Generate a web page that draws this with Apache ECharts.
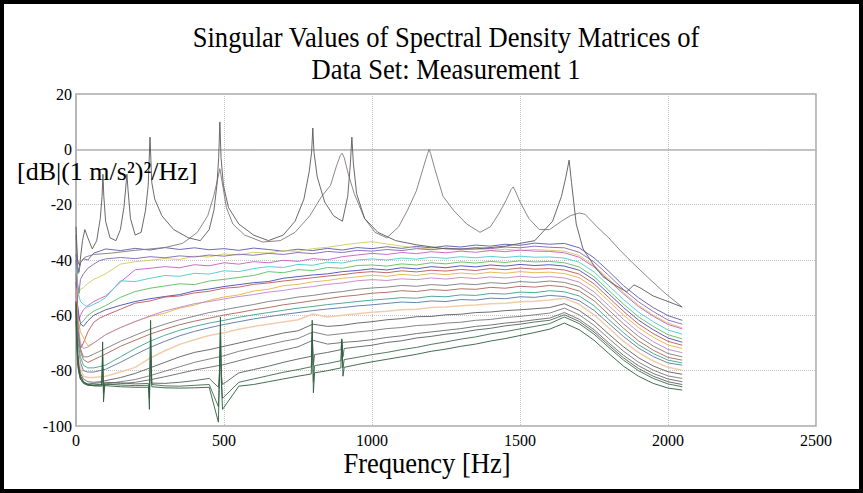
<!DOCTYPE html>
<html><head><meta charset="utf-8">
<script src="https://cdn.jsdelivr.net/npm/echarts@6/dist/echarts.min.js"></script>
<style>html,body{margin:0;padding:0;background:#fff}#c{width:863px;height:493px}</style>
</head><body><div id="c"></div>
<script>
// ---------- DATA ----------
const titleLines = ['Singular Values of Spectral Density Matrices of', 'Data Set: Measurement 1'];
const xTitle = 'Frequency [Hz]';
const yTitle = '[dB|(1 m/s\u00B2)\u00B2/Hz]';
const xTicks = [0, 500, 1000, 1500, 2000, 2500];
const yTicks = [-100, -80, -60, -40, -20, 0, 20];

// common frequency grid (Hz) for the band of singular values
const F = [0,5,10,15,25,40,60,80,
 100,150,200,250,300,350,400,450,
 500,550,600,650,700,750,800,850,
 900,950,1000,1050,1100,1150,1200,1250,
 1300,1350,1400,1450,1500,1550,1600,1650,
 1700,1750,1800,1850,1900,1950,2000,2048];

const L1 = [-38,-42,-44.5,-41,-39.5,-40,-37.5,-36.8,
 -36,-36.6,-35.8,-36.4,-35.5,-36.2,-35.6,-36.3,
 -35.9,-36.5,-35.7,-36.2,-36.8,-36.1,-36.6,-35.8,
 -36.4,-35.5,-35.9,-35.2,-35.8,-35.1,-35.6,-34.9,
 -35.3,-34.6,-35.0,-34.3,-34.7,-33.9,-34.3,-34.0,
 -35.6,-39.2,-44.1,-49.3,-53.6,-57.2,-60.1,-61.8];
const L2 = [-44,-54,-52,-50.5,-50,-48.5,-47,-46,
 -45,-41.5,-40.6,-40.1,-39.5,-39.8,-38.6,-38.9,
 -37.8,-38.2,-37.2,-37.5,-36.6,-36.9,-35.9,-35.4,
 -34.6,-33.9,-33.4,-34.2,-35.0,-35.6,-36.1,-35.8,
 -36.4,-36.0,-36.5,-36.1,-36.6,-36.2,-36.5,-36.8,
 -38.4,-42.0,-46.9,-51.8,-56.3,-59.9,-62.8,-64.5];
const L3 = [-40,-48,-52,-47,-45,-43,-41.5,-40.2,
 -39.6,-39.1,-39.5,-38.8,-39.2,-38.5,-38.9,-38.2,
 -38.6,-37.9,-38.3,-37.6,-38.0,-37.3,-37.7,-36.9,
 -37.3,-36.5,-36.8,-36.2,-36.6,-35.9,-36.3,-35.7,
 -36.1,-35.5,-35.9,-35.3,-35.6,-35.0,-35.4,-35.6,
 -37.2,-40.7,-45.6,-50.7,-55.1,-58.6,-61.7,-63.2];
const L4 = [-50,-58,-62,-60,-58,-56.5,-55,-54,
 -53,-48,-43.5,-43.0,-42.4,-42.8,-41.7,-42.1,
 -41.0,-41.5,-40.6,-41.0,-40.1,-40.5,-39.5,-39.9,
 -38.8,-38.2,-37.6,-38.0,-37.3,-37.7,-37.0,-37.4,
 -36.8,-37.2,-36.6,-37.0,-36.4,-36.8,-36.9,-37.4,
 -39.0,-42.5,-47.4,-52.3,-56.8,-60.3,-63.3,-64.9];
const L5 = [-42,-50,-53,-55,-56,-57,-56,-55,
 -53.6,-47.5,-47.8,-46.6,-45.6,-45.9,-44.8,-45.1,
 -43.9,-44.2,-43.1,-42.4,-42.7,-41.6,-41.9,-40.8,
 -41.1,-40.0,-39.6,-40.0,-39.3,-39.7,-39.0,-39.4,
 -38.8,-39.2,-38.7,-39.1,-38.6,-39.0,-38.9,-39.3,
 -40.8,-44.3,-49.3,-54.3,-58.8,-62.3,-65.3,-66.8];
const L6 = [-55,-62,-65,-63,-62,-60,-58.5,-57.5,
 -56.5,-53.5,-51.4,-50.2,-49.4,-48.6,-48.9,-47.6,
 -47.0,-46.3,-45.6,-44.2,-44.6,-43.5,-43.8,-42.7,
 -43.0,-42.0,-41.8,-42.2,-41.4,-41.8,-41.0,-41.4,
 -40.7,-41.1,-40.5,-40.9,-40.3,-40.7,-40.5,-41.0,
 -42.5,-46.0,-51.0,-56.0,-60.5,-64.0,-67.0,-68.5];
const L7 = [-48,-56,-60,-63,-64,-62,-60,-59,
 -58,-56.4,-55.0,-54.0,-53.2,-52.5,-51.2,-50.5,
 -49.6,-48.9,-48.2,-47.8,-46.6,-46.0,-45.4,-45.0,
 -44.2,-43.8,-43.2,-43.6,-42.8,-43.2,-42.4,-42.8,
 -42.1,-42.5,-41.8,-42.2,-41.6,-42.0,-41.7,-42.2,
 -43.7,-47.2,-52.2,-57.2,-61.7,-65.2,-68.2,-69.7];
const L8 = [-45,-56,-68,-72,-70,-66,-62.5,-61,
 -60,-57.8,-55.6,-54.8,-53.4,-53.0,-51.9,-51.3,
 -50.2,-49.8,-48.8,-48.3,-47.6,-47.0,-46.4,-45.8,
 -45.3,-44.6,-44.2,-44.6,-43.9,-44.3,-43.7,-44.0,
 -43.4,-43.8,-43.1,-43.5,-42.9,-43.3,-43.1,-43.6,
 -45.1,-48.6,-53.6,-58.6,-63.1,-66.6,-69.4,-70.8];
const L9 = [-50,-60,-63,-66,-68,-71,-70,-68.5,
 -67,-64.5,-62.2,-60.4,-59.2,-57.4,-56.3,-54.6,
 -53.4,-52.6,-51.2,-50.6,-49.3,-48.8,-47.9,-47.4,
 -46.6,-46.1,-45.5,-45.9,-45.2,-45.6,-44.9,-45.3,
 -44.7,-45.1,-44.4,-44.8,-44.2,-44.6,-44.4,-44.9,
 -46.4,-49.9,-54.9,-59.9,-64.4,-67.9,-70.7,-72.0];
const L10 = [-52,-61,-66,-70,-72,-71.5,-70,-68.5,
 -67,-64.4,-62.3,-60.2,-58.4,-57.1,-55.8,-55.0,
 -54.1,-53.2,-52.5,-51.6,-51.0,-50.2,-49.6,-48.8,
 -48.3,-47.5,-47.1,-47.4,-46.8,-47.1,-46.5,-46.9,
 -46.3,-46.7,-46.1,-46.5,-45.9,-46.3,-46.0,-46.5,
 -48.0,-51.5,-56.5,-61.5,-66.0,-69.5,-72.3,-73.5];
const L11 = [-55,-64,-68,-72,-75,-75,-74,-73,
 -72,-69.4,-67.2,-65.0,-63.2,-61.6,-60.3,-59.0,
 -58.0,-57.0,-56.1,-55.0,-54.3,-53.4,-52.8,-52.0,
 -51.4,-50.6,-50.1,-49.8,-49.2,-49.5,-48.9,-49.2,
 -48.6,-48.9,-48.2,-48.5,-47.8,-48.1,-47.6,-48.1,
 -49.6,-53.1,-58.1,-63.1,-67.6,-71.1,-73.8,-75.0];
const L12 = [-56,-66,-70,-73,-76,-77,-76,-75,
 -74,-71.2,-69.0,-66.8,-65.0,-63.4,-62.1,-61.0,
 -59.9,-59.0,-58.0,-57.2,-56.2,-55.5,-54.7,-54.0,
 -53.2,-52.7,-52.0,-51.7,-51.1,-51.4,-50.7,-51.0,
 -50.4,-50.6,-49.9,-50.2,-49.5,-49.8,-49.2,-49.7,
 -51.2,-54.7,-59.7,-64.7,-69.2,-72.6,-75.2,-76.2];
const L13 = [-58,-68,-72,-75,-78,-79,-79,-78.5,
 -78,-75,-72,-69.4,-67.2,-65.4,-64.0,-62.8,
 -61.8,-60.7,-59.8,-59.0,-58.2,-57.4,-56.8,-56.1,
 -55.6,-55.0,-54.5,-54.1,-53.6,-53.8,-53.1,-53.3,
 -52.6,-52.8,-52.1,-52.3,-51.6,-51.8,-51.1,-51.5,
 -53.0,-56.5,-61.5,-66.3,-70.6,-73.8,-76.2,-77.2];
const L14 = [-58,-70,-74,-77,-80,-80.5,-80.5,-80,
 -79.5,-77,-74.2,-71.6,-69.4,-67.4,-65.8,-64.5,
 -63.3,-62.3,-61.3,-60.5,-59.7,-59.0,-58.3,-57.7,
 -57.2,-56.6,-56.2,-55.7,-55.2,-55.4,-54.8,-55.0,
 -54.3,-54.5,-53.8,-54.0,-53.3,-53.5,-52.8,-53.2,
 -54.7,-58.2,-63.0,-67.7,-71.8,-74.9,-77.2,-78.0];
const L15 = [-60,-72,-76,-79,-82,-82.5,-82.5,-82.2,
 -82,-80.5,-78.8,-75.5,-72.8,-70.5,-68.8,-67.3,
 -66.3,-65.0,-64.0,-63.2,-62.4,-61.6,-59.5,-60.6,
 -60.0,-59.4,-58.9,-58.5,-58.0,-57.8,-57.2,-57.0,
 -56.5,-56.3,-55.8,-55.6,-55.1,-54.9,-54.5,-53.8,
 -56.0,-59.8,-64.6,-69.4,-73.4,-76.5,-78.8,-79.8];
const L16 = [-60,-74,-78,-81,-83,-84,-84.2,-84,
 -83.6,-82.5,-81.0,-79.0,-77.0,-75.0,-73.4,-72.4,
 -71.2,-70.0,-68.8,-67.6,-66.4,-65.6,-63.2,-64.0,
 -63.6,-62.8,-62.3,-61.6,-61.2,-60.5,-60.4,-59.8,
 -59.6,-59.0,-58.8,-58.3,-58.0,-57.6,-57.2,-55.8,
 -58.2,-62.0,-66.8,-71.4,-75.3,-78.3,-80.4,-81.3];
const L17 = [-62,-76,-80,-82,-84,-85,-85.2,-85,
 -84.8,-84.0,-83.2,-81.8,-80.2,-78.6,-77.0,-75.8,
 -74.6,-73.0,-71.8,-70.6,-69.4,-68.4,-66.0,-67.2,
 -66.6,-66.0,-65.5,-64.8,-64.4,-63.7,-63.4,-62.8,
 -62.5,-61.8,-61.5,-60.8,-60.4,-59.8,-59.2,-57.4,
 -59.8,-63.6,-68.4,-73.0,-76.9,-79.8,-81.9,-82.8];
const L18 = [-62,-77,-81,-83,-84.5,-85.2,-85.4,-85.3,
 -85.1,-84.7,-84.2,-83.3,-82.2,-81.0,-79.8,-78.8,
 -77.8,-76.4,-75.0,-73.8,-72.6,-71.4,-69.0,-70.4,
 -69.8,-69.4,-68.8,-68.0,-67.4,-66.6,-66.0,-65.4,
 -64.8,-64.0,-63.5,-62.8,-62.3,-61.6,-61.0,-59.0,
 -61.4,-65.2,-70.0,-74.5,-78.2,-81.0,-83.0,-84.0];

// finer grid for the lowest singular values (with the harmonic spikes)
const FS = [0,4,8,15,25,40,60,80,
 87,90,93,97,150,200,245,248,
 252,256,300,350,400,450,481,484,
 488,491,495,550,600,650,700,750,
 795,798,802,806,850,895,898,902,
 906,950,1000,1050,1100,1150,1200,1250,
 1300,1350,1400,1450,1500,1550,1600,1650,
 1700,1750,1800,1850,1900,1950,2000,2048];
const L19 = [-58,-72,-79.5,-83,-84.2,-84.8,-84.6,-84.4,
 -84.3,-79,-86,-84.2,-84.4,-84.8,-84.6,-87,
 -76,-84.5,-84.6,-84.2,-83.6,-82.8,-86,-82.2,
 -72,-81.6,-85,-80.8,-79.6,-78.4,-77.0,-75.8,
 -74.8,-68,-78,-74.2,-73.4,-72.4,-69,-75,
 -72.0,-71.4,-70.8,-69.8,-69.2,-68.2,-67.6,-66.8,
 -66.2,-65.3,-64.7,-63.8,-63.2,-62.4,-61.8,-59.8,
 -62.2,-66.0,-70.8,-75.4,-79.2,-82.0,-84.0,-85.0];
const L20 = [-56,-71,-79,-83,-84.6,-85.3,-85.2,-85.0,
 -85.0,-75,-88,-84.8,-85.2,-85.4,-85.3,-90,
 -68,-85.0,-85.5,-85.6,-85.3,-85.0,-93,-84.8,
 -66,-83,-90,-84.2,-83.0,-81.8,-80.6,-79.6,
 -78.6,-66,-84,-78.2,-77.4,-76.4,-70,-79,
 -76.0,-75.2,-74.2,-73.4,-72.4,-71.6,-70.5,-69.6,
 -68.6,-67.8,-66.7,-65.9,-64.9,-64.0,-63.0,-60.6,
 -63.0,-66.8,-71.6,-76.2,-80.0,-82.8,-84.8,-85.8];
const L21 = [-55,-70,-78,-82,-84,-85,-85.5,-85.6,
 -85.6,-69.6,-91.3,-85.4,-85.8,-86.0,-86.0,-94.0,
 -61.8,-85.8,-86.2,-86.3,-86.2,-86.0,-98.6,-85.5,
 -60.6,-84,-94.0,-85.6,-85.0,-84.0,-83.0,-82.0,
 -81.2,-61.8,-88.0,-80.8,-80.0,-79.0,-68.5,-82.0,
 -78.8,-77.8,-76.8,-75.9,-75.0,-74.1,-73.0,-72.2,
 -71.2,-70.4,-69.3,-68.4,-67.3,-66.2,-65.0,-62.8,
 -65.2,-69.0,-73.8,-78.4,-82.0,-84.6,-86.3,-87.0];

// first two singular values (resonance peaks)
const FA = [0,5,12,22,30,40,55,70,82,88,91,94,100,115,135,150,162,168,172,176,184,200,220,235,244,250,256,266,290,330,380,420,450,466,476,482,486,490,498,515,550,600,650,700,740,770,788,796,800,804,815,840,870,900,918,927,932,937,948,975,1020,1080,1150,1250,1350,1450,1550,1610,1640,1655,1666,1674,1690,1713,1750,1780,1820,1860,1885,1905,1950,2000,2048];
const VA = [-28,-40,-42,-33,-29,-32,-36,-33,-25,-17,-9,-17,-26,-32,-33,-29,-21,-14,-9,-15,-25,-31,-30,-22,-13,4.4,-12,-18,-24,-29,-32,-33,-29,-22,-13,-3,9.9,-3,-13,-21,-27,-31,-33,-31,-26,-18,-8,-1,7.7,-1,-10,-19,-24,-26,-17,-5,4.4,-5,-16,-25,-30,-33,-34.5,-36,-36,-35,-33,-26,-17,-10,-3.9,-12,-27,-36,-42,-46,-49,-51.5,-49,-50,-53,-55,-57];
const FB = [0,6,15,30,60,120,200,300,360,410,445,465,478,486,494,508,530,570,630,690,740,790,830,860,880,893,899,906,920,940,975,1010,1050,1090,1120,1150,1175,1188,1193,1198,1212,1240,1275,1320,1365,1400,1430,1455,1470,1477,1484,1500,1530,1565,1600,1640,1670,1700,1720,1760,1800,1838,1880,1939,1990,2048];
const VB = [-31,-45,-41,-39,-38,-37.5,-36.5,-35.5,-34,-30,-24,-17,-11,-7,-12,-21,-27,-31,-33.5,-33,-30,-24,-17,-13,-6,-2.2,-1.4,-3,-9,-16,-25,-30,-32,-28,-22,-15,-6,-1.5,0,-1.5,-7,-17,-22,-27,-30,-28,-23,-18,-14.5,-13.6,-15,-19,-25,-29,-29,-26,-24,-23,-23.5,-28,-32,-36.5,-41,-47,-52,-57];

// ---------- STYLE ----------
const serif = 'Liberation Serif';
const bandSets = [
  [F, L1, '#5b5bab'], [F, L2, '#d3cb5a'], [F, L3, '#8464b4'], [F, L4, '#c65cc6'],
  [F, L5, '#45cccc'], [F, L6, '#5cbc5c'], [F, L7, '#4a4ab6'], [F, L8, '#be5656'],
  [F, L9, '#e2b444'], [F, L10, '#c283c9'], [F, L11, '#7c7c7c'], [F, L12, '#a86656'],
  [F, L13, '#3ca08c'], [F, L14, '#5a74a4'], [F, L15, '#f2c8a2'], [F, L16, '#5e5e5e'],
  [F, L17, '#787878'], [F, L18, '#686868'], [FS, L19, '#56625a'], [FS, L20, '#3d6b4d'],
  [FS, L21, '#2e5e3e'], [FB, VB, '#857878'], [FA, VA, '#5a5a5a']
];
const series = bandSets.map(([xs, ys, col], i) => ({
  type: 'line', silent: true, showSymbol: false, symbol: 'none',
  data: xs.map((x, k) => [x, ys[k]]),
  lineStyle: { width: (col === '#f2c8a2') ? 1.5 : 1, color: col, opacity: 0.9 },
  z: 2 + i * 0.01
}));

const chart = echarts.init(document.getElementById('c'), null, { renderer: 'svg' });
const axisCommon = {
  axisLine: { show: true, lineStyle: { color: '#b4b4b4', width: 1.5 } },
  axisTick: { show: false },
  splitLine: { show: true, lineStyle: { color: '#c4c4c4', type: 'dotted', width: 1 } }
};
chart.setOption({
  animation: false,
  backgroundColor: '#ffffff',
  textStyle: { fontFamily: serif },
  grid: { left: 76, right: 47, top: 94, bottom: 67, show: true, borderColor: '#a8a8a8', borderWidth: 1.5, backgroundColor: 'transparent' },
  xAxis: Object.assign({
    type: 'value', min: xTicks[0], max: xTicks[xTicks.length - 1], interval: 500,
    axisLabel: { color: '#000', fontFamily: serif, fontSize: 16, margin: 6, formatter: v => String(v) }
  }, axisCommon),
  yAxis: Object.assign({
    type: 'value', min: yTicks[0], max: yTicks[yTicks.length - 1], interval: 20,
    axisLabel: { color: '#000', fontFamily: serif, fontSize: 16, margin: 4, formatter: v => String(v) }
  }, axisCommon),
  series: series,
  graphic: [
    { type: 'rect', z: 100, silent: true, shape: { x: 2, y: 2, width: 859, height: 489 }, style: { fill: 'none', stroke: '#000', lineWidth: 4 } },
    { type: 'text', z: 100, x: 446, y: 37, scaleX: 0.885, style: { text: titleLines[0], font: '30px ' + serif, fill: '#000', align: 'center', verticalAlign: 'middle', textAlign: 'center', textVerticalAlign: 'middle' } },
    { type: 'text', z: 100, x: 446, y: 69, scaleX: 0.885, style: { text: titleLines[1], font: '30px ' + serif, fill: '#000', align: 'center', verticalAlign: 'middle', textAlign: 'center', textVerticalAlign: 'middle' } },
    { type: 'text', z: 100, x: 427, y: 463, scaleX: 0.885, style: { text: xTitle, font: '30px ' + serif, fill: '#000', align: 'center', verticalAlign: 'middle', textAlign: 'center', textVerticalAlign: 'middle' } },
    { type: 'text', z: 100, x: 17, y: 171, style: { text: yTitle, font: '26px ' + serif, fill: '#000', align: 'left', verticalAlign: 'middle', textAlign: 'left', textVerticalAlign: 'middle' } }
  ]
});
</script></body></html>
